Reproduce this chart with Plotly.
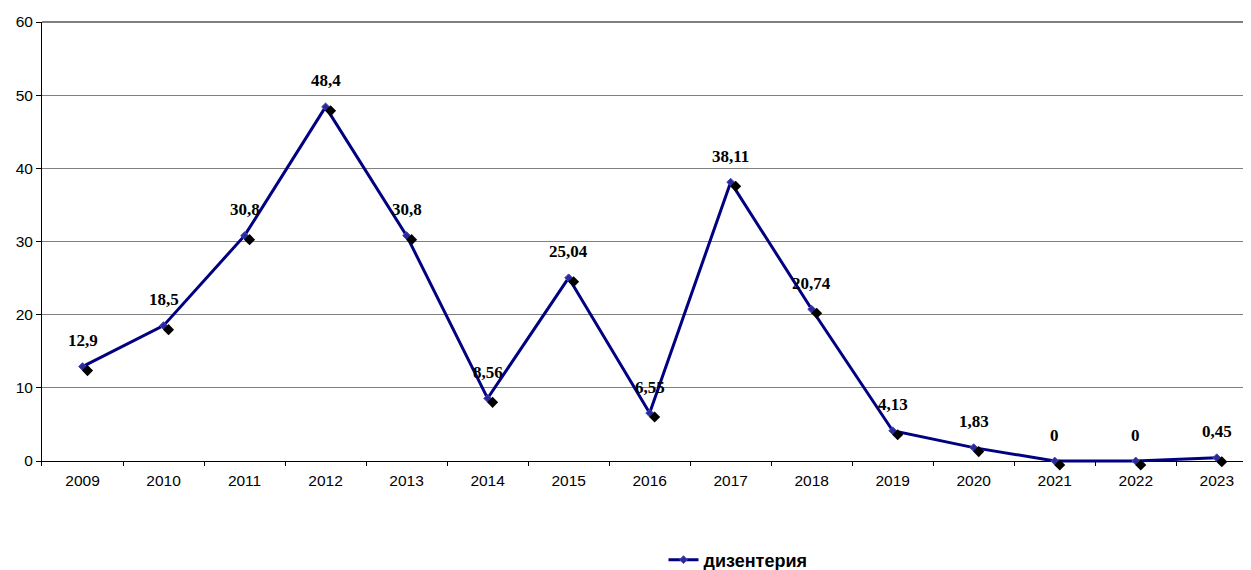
import plotly.graph_objects as go

years = ["2009", "2010", "2011", "2012", "2013", "2014", "2015", "2016",
         "2017", "2018", "2019", "2020", "2021", "2022", "2023"]
values = [12.9, 18.5, 30.8, 48.4, 30.8, 8.56, 25.04, 6.55, 38.11, 20.74,
          4.13, 1.83, 0, 0, 0.45]
labels = ["12,9", "18,5", "30,8", "48,4", "30,8", "8,56", "25,04", "6,55",
          "38,11", "20,74", "4,13", "1,83", "0", "0", "0,45"]
series_name = "дизентерия"

# the page body has an 8px margin, so the figure is drawn 8px smaller
OFF = 8
W, H = 1251 - OFF, 570 - OFF
ml, mr, mt, mb = 42 - OFF, 1, 22 - OFF, 104
pw = W - ml - mr
ph = H - mt - mb
xr = [-0.5, 14.41]
ylo_px = 5  # plot bottom sits 5px below the zero line (room for tick marks)
pyu = (ph - ylo_px) / 60.0
yr = [-ylo_px / pyu, 60]
pxu = pw / (xr[1] - xr[0])
dx, dy = 5 / pxu, 4 / pyu

fig = go.Figure()
# shadow diamonds (offset down/right)
fig.add_trace(go.Scatter(
    x=years, y=values, mode="markers", xaxis="x2", yaxis="y2",
    marker=dict(symbol="diamond", size=8.5, color="black"),
    showlegend=False, hoverinfo="skip", cliponaxis=False))
fig.add_trace(go.Scatter(
    x=years, y=values, mode="lines+markers", name=series_name,
    line=dict(color="#000080", width=3),
    marker=dict(symbol="diamond", size=6, color="#2a2a9a",
                line=dict(color="#4a4ab8", width=1)),
    cliponaxis=False))

for i, (v, t) in enumerate(zip(values, labels)):
    fig.add_annotation(x=i, y=v, xref="x", yref="y", text=t, showarrow=False,
                       yshift=26,
                       font=dict(family="Liberation Serif", size=17, color="black",
                                 weight="bold"))

# top border of plot area
fig.add_shape(type="line", xref="paper", yref="paper", x0=0, x1=1, y0=1, y1=1,
              line=dict(color="black", width=1))

tickfont = dict(family="Liberation Sans", size=15.5, color="black")
fig.update_layout(
    width=W, height=H, autosize=False,
    margin=dict(l=ml, r=mr, t=mt, b=mb),
    paper_bgcolor="white", plot_bgcolor="white",
    font=dict(family="Liberation Sans", size=15, color="black"),
    xaxis=dict(type="category", categoryorder="array", categoryarray=years,
               range=xr, showline=False, automargin=False,
               ticks="inside", tickson="boundaries", ticklen=5, tickcolor="black",
               ticklabelstandoff=3,
               showgrid=False, zeroline=False, tickfont=tickfont),
    yaxis=dict(range=yr, tickvals=[0, 10, 20, 30, 40, 50, 60], automargin=False,
               showline=True, linecolor="black", linewidth=1,
               ticks="outside", ticklen=5, tickcolor="black",
               showgrid=True, gridcolor="#808080", gridwidth=1,
               zeroline=True, zerolinecolor="black", zerolinewidth=1,
               tickfont=tickfont),
    xaxis2=dict(type="category", categoryorder="array", categoryarray=years,
                range=[xr[0] - dx, xr[1] - dx], overlaying="x", visible=False),
    yaxis2=dict(range=[yr[0] + dy, yr[1] + dy], overlaying="y", visible=False),
    legend=dict(xref="container", yref="container",
                x=(738 - OFF) / W, y=(570 - 560) / H,
                xanchor="center", yanchor="middle", orientation="h",
                font=dict(family="Liberation Sans", size=18, weight="bold")),
)

fig.write_html("out.html")
